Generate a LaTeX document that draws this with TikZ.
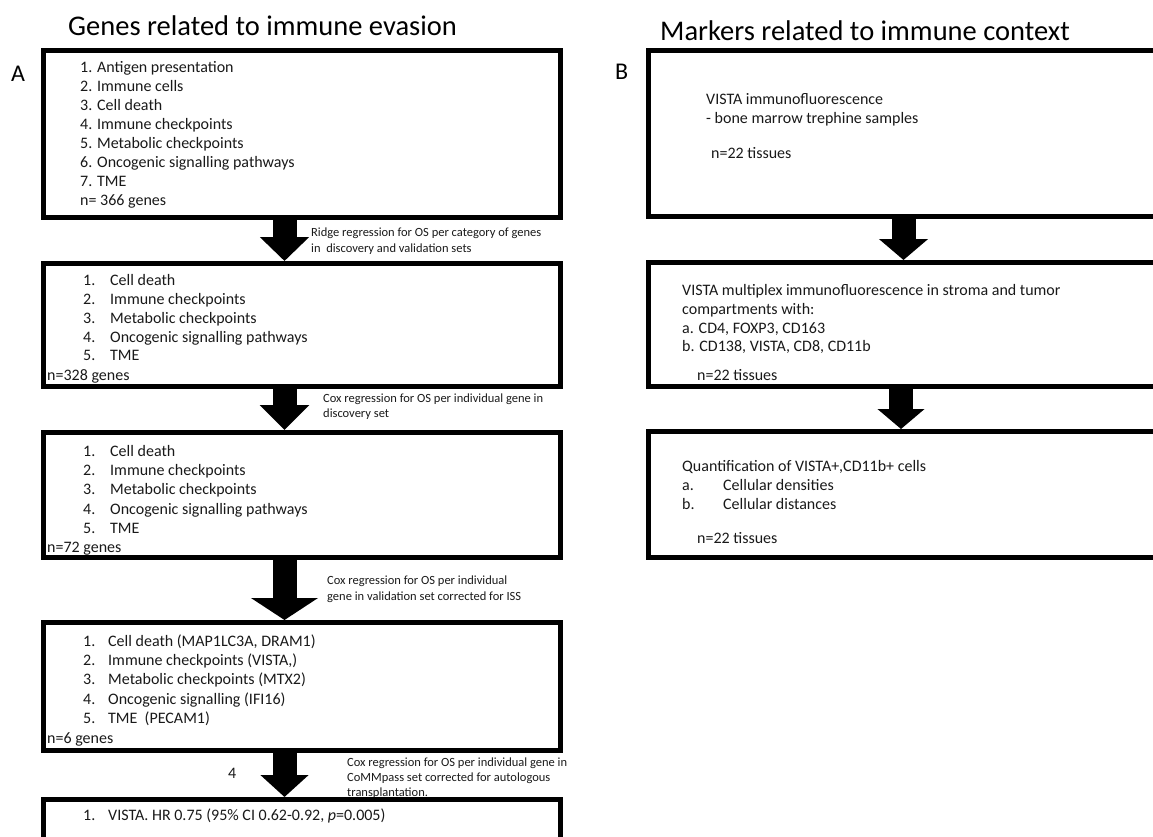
\documentclass[tikz,border=0pt]{standalone}
\usepackage{fontspec}
\setmainfont{Carlito}
\usetikzlibrary{arrows.meta}
\tikzset{
  box/.style={draw, line width=4.5pt, inner sep=0pt, anchor=north west},
  item/.style={anchor=base west, inner sep=0pt, font=\fontsize{16}{19}\selectfont, text=black!90},
  lbl/.style={anchor=base west, inner sep=0pt, font=\fontsize{12.5}{15}\selectfont, text=black!90},
  ttl/.style={anchor=base west, inner sep=0pt, font=\fontsize{28.5}{32}\selectfont},
  bigarrow/.style={line width=24pt, -{Triangle[#1]}},
}
\begin{document}
\begin{tikzpicture}[x=1pt,y=-1pt]
\useasboundingbox (0,0) rectangle (1153,836);
\clip (0,0) rectangle (1153,836);

% titles and panel letters
\node[ttl] (ta) at (68,35) {Genes related to immune evasion};
\node[ttl] (tb) at (660,40) {Markers related to immune context};
\node[ttl, font=\fontsize{24}{28}\selectfont] (la) at (11,81) {A};
\node[ttl, font=\fontsize{24}{28}\selectfont] (lb) at (615,79) {B};

% ---------- panel A boxes ----------
\node[box, minimum width=517pt, minimum height=167pt] (a1) at (41,48) {};
\node[box, minimum width=517pt, minimum height=123pt] (a2) at (41,261) {};
\node[box, minimum width=517pt, minimum height=125pt] (a3) at (41,430) {};
\node[box, minimum width=517pt, minimum height=128pt] (a4) at (41,620) {};

% box A1 text
\foreach \t/\y [count=\i] in {{1. Antigen presentation}/72, {2. Immune cells}/91,
  {3. Cell death}/110, {4. Immune checkpoints}/129, {5. Metabolic checkpoints}/148,
  {6. Oncogenic signalling pathways}/167, {7. TME}/186, {n= 366 genes}/205}
  \node[item] (a1t\i) at (80,\y) {\t};

% box A2 text
\foreach \n/\t/\y in {1/{Cell death}/285, 2/{Immune checkpoints}/304,
  3/{Metabolic checkpoints}/323, 4/{Oncogenic signalling pathways}/342, 5/{TME}/360}
  {\node[item] (a2n\n) at (83,\y) {\n.};
   \node[item] (a2t\n) at (110,\y) {\t};}
\node[item] (a2c) at (47,380) {n=328 genes};

% box A3 text
\foreach \n/\t/\y in {1/{Cell death}/456, 2/{Immune checkpoints}/475,
  3/{Metabolic checkpoints}/494, 4/{Oncogenic signalling pathways}/514, 5/{TME}/533}
  {\node[item] (a3n\n) at (83,\y) {\n.};
   \node[item] (a3t\n) at (110,\y) {\t};}
\node[item] (a3c) at (47,552) {n=72 genes};

% box A4 text
\foreach \n/\t/\y in {1/{Cell death (MAP1LC3A, DRAM1)}/646, 2/{Immune checkpoints (VISTA,)}/665,
  3/{Metabolic checkpoints (MTX2)}/684, 4/{Oncogenic signalling (IFI16)}/704, 5/{TME\ \ (PECAM1)}/723}
  {\node[item] (a4n\n) at (83,\y) {\n.};
   \node[item] (a4t\n) at (108,\y) {\t};}
\node[item] (a4c) at (47,743) {n=6 genes};

% arrow labels
\node[lbl] (r1a) at (311,236) {Ridge regression for OS per category of genes};
\node[lbl] (r1b) at (311,252) {in\ \ discovery and validation sets};
\node[lbl] (r2a) at (323,402) {Cox regression for OS per individual gene in};
\node[lbl] (r2b) at (323,417) {discovery set};
\node[lbl] (r3a) at (327,584) {Cox regression for OS per individual};
\node[lbl] (r3b) at (327,600) {gene in validation set corrected for ISS};
\node[lbl] (r4a) at (347,766) {Cox regression for OS per individual gene in};
\node[lbl] (r4b) at (347,781) {CoMMpass set corrected for autologous};
\node[lbl] (r4c) at (347,796) {transplantation.};
\node[item] (four) at (228,778) {4};

% box A5
\node[box, minimum width=517pt, minimum height=80pt] (a5) at (41,797) {};
\node[item] (a5n1) at (83,820) {1.};
\node[item] (a5t1) at (108,820) {VISTA. HR 0.75 (95\% CI 0.62-0.92, {\itshape p}=0.005)};

% arrows panel A
\coordinate (xa) at (284.5,0);
\draw[bigarrow={width=48pt,length=24pt}] (a1.south -| xa) -- (a2.north -| xa);
\draw[bigarrow={width=48pt,length=25pt}] (a2.south -| xa) -- (a3.north -| xa);
\draw[bigarrow={width=66pt,length=22pt}] (a3.south -| xa) -- (a4.north -| xa);
\draw[bigarrow={width=47pt,length=22pt}] (a4.south -| xa) -- (a5.north -| xa);

% ---------- panel B boxes ----------
\node[box, minimum width=560pt, minimum height=166pt] (b1) at (646,48) {};
\node[box, minimum width=560pt, minimum height=124pt] (b2) at (646,260) {};
\node[box, minimum width=560pt, minimum height=126pt] (b3) at (646,429) {};

\node[item] (b1t1) at (706,104) {VISTA immunofluorescence};
\node[item] (b1t2) at (706,123) {- bone marrow trephine samples};
\node[item] (b1t3) at (711,158) {n=22 tissues};

\node[item] (b2t1) at (682,295) {VISTA multiplex immunofluorescence in stroma and tumor};
\node[item] (b2t2) at (682,314) {compartments with:};
\node[item] (b2t3) at (682,333) {a. CD4, FOXP3, CD163};
\node[item] (b2t4) at (682,351) {b. CD138, VISTA, CD8, CD11b};
\node[item] (b2t5) at (697,380) {n=22 tissues};

\node[item] (b3t1) at (682,471) {Quantification of VISTA+,CD11b+ cells};
\node[item] (b3n1) at (682,490) {a.};
\node[item] (b3t2) at (723,490) {Cellular densities};
\node[item] (b3n2) at (682,509) {b.};
\node[item] (b3t3) at (723,509) {Cellular distances};
\node[item] (b3t4) at (697,543) {n=22 tissues};

\coordinate (xb1) at (903.5,0);
\coordinate (xb2) at (901,0);
\draw[bigarrow={width=48pt,length=21pt}] (b1.south -| xb1) -- (b2.north -| xb1);
\draw[bigarrow={width=46pt,length=20pt}] (b2.south -| xb2) -- (b3.north -| xb2);
\end{tikzpicture}
\end{document}
